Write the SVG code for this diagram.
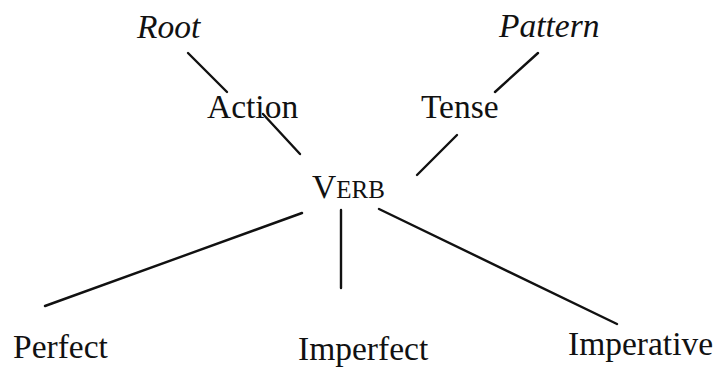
<svg xmlns="http://www.w3.org/2000/svg" width="718" height="367" viewBox="0 0 718 367">
<style>
text{font-family:"Liberation Serif","Times New Roman",serif;font-size:33.5px;fill:#111}
.it{font-style:italic}
.sc{font-size:25px}
line{stroke:#111;stroke-width:2.4;stroke-linecap:round}
</style>
<rect width="718" height="367" fill="#fff"/>
<g id="connectors">
<line x1="188" y1="53" x2="227" y2="92"/>
<line x1="263" y1="114" x2="300" y2="154"/>
<line x1="538" y1="53" x2="495" y2="92"/>
<line x1="457" y1="135" x2="417" y2="175"/>
<line x1="302" y1="213" x2="45" y2="306"/>
<line x1="341" y1="210" x2="341" y2="288"/>
<line x1="379" y1="209" x2="617" y2="324"/>
</g>
<g id="root"><text class="it" x="137" y="38">Root</text></g>
<g id="pattern"><text class="it" x="499" y="37">Pattern</text></g>
<g id="action"><text x="207" y="118">Action</text></g>
<g id="tense"><text x="421" y="118">Tense</text></g>
<g id="verb"><text x="312" y="198">V<tspan class="sc">ERB</tspan></text></g>
<g id="perfect"><text x="13" y="358">Perfect</text></g>
<g id="imperfect"><text x="298" y="360">Imperfect</text></g>
<g id="imperative"><text x="568" y="355">Imperative</text></g>
</svg>
